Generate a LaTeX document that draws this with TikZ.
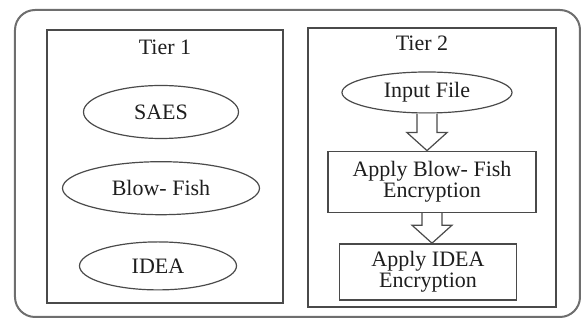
\documentclass[tikz,border=0pt]{standalone}
\usepackage{fontspec}
\setmainfont{Liberation Serif}
\usepackage{tikz}
\usetikzlibrary{positioning,shapes.geometric,calc}

\definecolor{linegray}{HTML}{4A4A4A}
\definecolor{framegray}{HTML}{6E6E6E}
\definecolor{textgray}{HTML}{1E1E1E}

\newcommand{\hollowarrow}[2]{%
  \draw[hollow] let \p1=(#1.south), \p2=(#2.north) in
    (\x1-5pt,\y1) -- (\x1-5pt,\y2+9pt) -- (\x1-10pt,\y2+9pt) -- (\x1,\y2)
    -- (\x1+10pt,\y2+9pt) -- (\x1+5pt,\y2+9pt) -- (\x1+5pt,\y1);}

\begin{document}
\begin{tikzpicture}[
    x=1pt, y=-1pt,
    font=\fontsize{11}{10.5}\selectfont, text=textgray,
    frame/.style={draw=framegray, line width=1pt, rounded corners=10pt,
                  minimum width=282.5pt, minimum height=153.5pt, inner sep=0pt},
    tier/.style={draw=linegray, line width=0.8pt, inner sep=0pt},
    tierlabel/.style={inner sep=1pt},
    oval/.style={draw=linegray, ellipse, line width=0.6pt, inner sep=0pt,
                 minimum height=26.5pt},
    stepbox/.style={draw=linegray, line width=0.8pt, align=center, inner sep=0pt},
    hollow/.style={draw=linegray, line width=0.6pt, fill=white, line join=miter}
  ]
    \useasboundingbox (0,0) rectangle (293,160);
    \node[frame] (outer) at (148.75,81.75) {};
    \node[tier, minimum width=118pt, minimum height=136.5pt] (tierone) at (82.5,83.25) {};
    \node[tier, minimum width=124pt, minimum height=139.5pt] (tiertwo) at (216,83.75) {};
    \node[tierlabel, below=4.2pt of tierone.north] (labone) {Tier 1};
    \node[tierlabel, below=3pt of tiertwo.north, xshift=-5pt] (labtwo) {Tier 2};

    \node[oval, minimum width=77.5pt] (saes) at (80.5,56) {SAES};
    \node[oval, minimum width=98.5pt, below=11pt of saes] (blowfish) {Blow- Fish};
    \node[oval, minimum width=78.5pt, minimum height=24pt, below=13pt of blowfish, xshift=-1.5pt] (idea) {IDEA};

    \node[oval, minimum width=85pt, minimum height=20.5pt] (infile) at (213.5,46.25) {Input File};
    \node[stepbox, minimum width=104pt, minimum height=30.5pt, below=18.5pt of infile, xshift=2.5pt] (encblow) {Apply Blow- Fish\\Encryption};
    \node[stepbox, minimum width=88.5pt, minimum height=28pt, below=15pt of encblow, xshift=-2pt] (encidea) {Apply IDEA\\Encryption};

    \hollowarrow{infile}{encblow}
    \hollowarrow{encblow}{encidea}
  \end{tikzpicture}
\end{document}
